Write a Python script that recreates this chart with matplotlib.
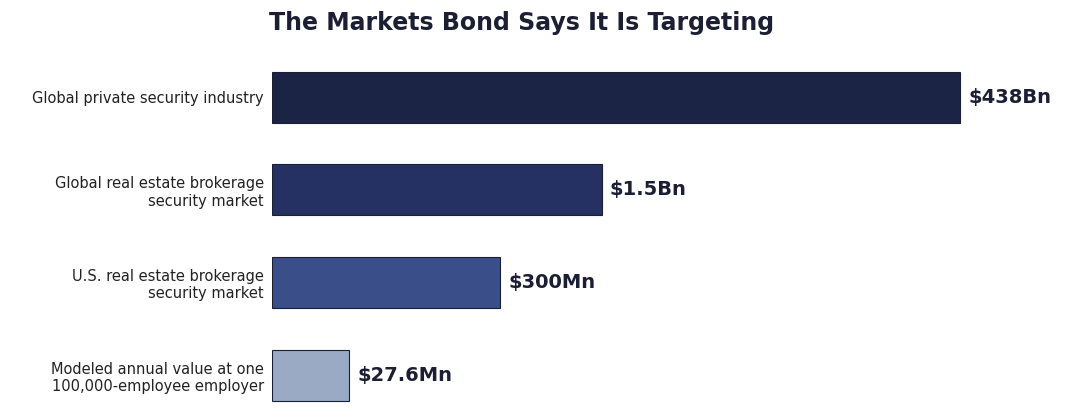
import matplotlib.pyplot as plt

# data
labels = ["Global private security industry",
          "Global real estate brokerage\nsecurity market",
          "U.S. real estate brokerage\nsecurity market",
          "Modeled annual value at one\n100,000-employee employer"]
values = [438e9, 1.5e9, 300e6, 27.6e6]
value_text = ["$438Bn", "$1.5Bn", "$300Mn", "$27.6Mn"]
colors = ["#1c2446", "#253163", "#3a4e8a", "#9aaac5"]

fig = plt.figure(figsize=(10.84, 4.2), dpi=100)
ax = fig.add_axes([272 / 1084, 0.012, (1050 - 272) / 1084, 0.845])

base = 10 ** 6.91
ypos = list(range(len(values)))
ax.barh(ypos, [v - base for v in values], left=base, height=0.55,
        color=colors, edgecolor="#1a1f33", linewidth=0.8)
ax.set_xscale("log")
ax.set_xlim(base, 10 ** 12.26)
ax.set_ylim(3.43, -0.4)

for y, v, t in zip(ypos, values, value_text):
    ax.text(v * 1.14, y, t.replace("$", r"\$"), va="center", ha="left",
            fontsize=14, fontweight="bold", color="#1c1f33")

ax.set_yticks(ypos)
ax.set_yticklabels(labels, fontsize=10.5, color="#222222")
ax.tick_params(axis="y", length=0, pad=6)
ax.set_xticks([])
ax.minorticks_off()
ax.xaxis.set_minor_locator(plt.NullLocator())
for s in ax.spines.values():
    s.set_visible(False)

fig.text(522 / 1084, 0.945, "The Markets Bond Says It Is Targeting",
         ha="center", va="center", fontsize=17, fontweight="bold", color="#1c1f33")

fig.savefig("out.png", dpi=100)
